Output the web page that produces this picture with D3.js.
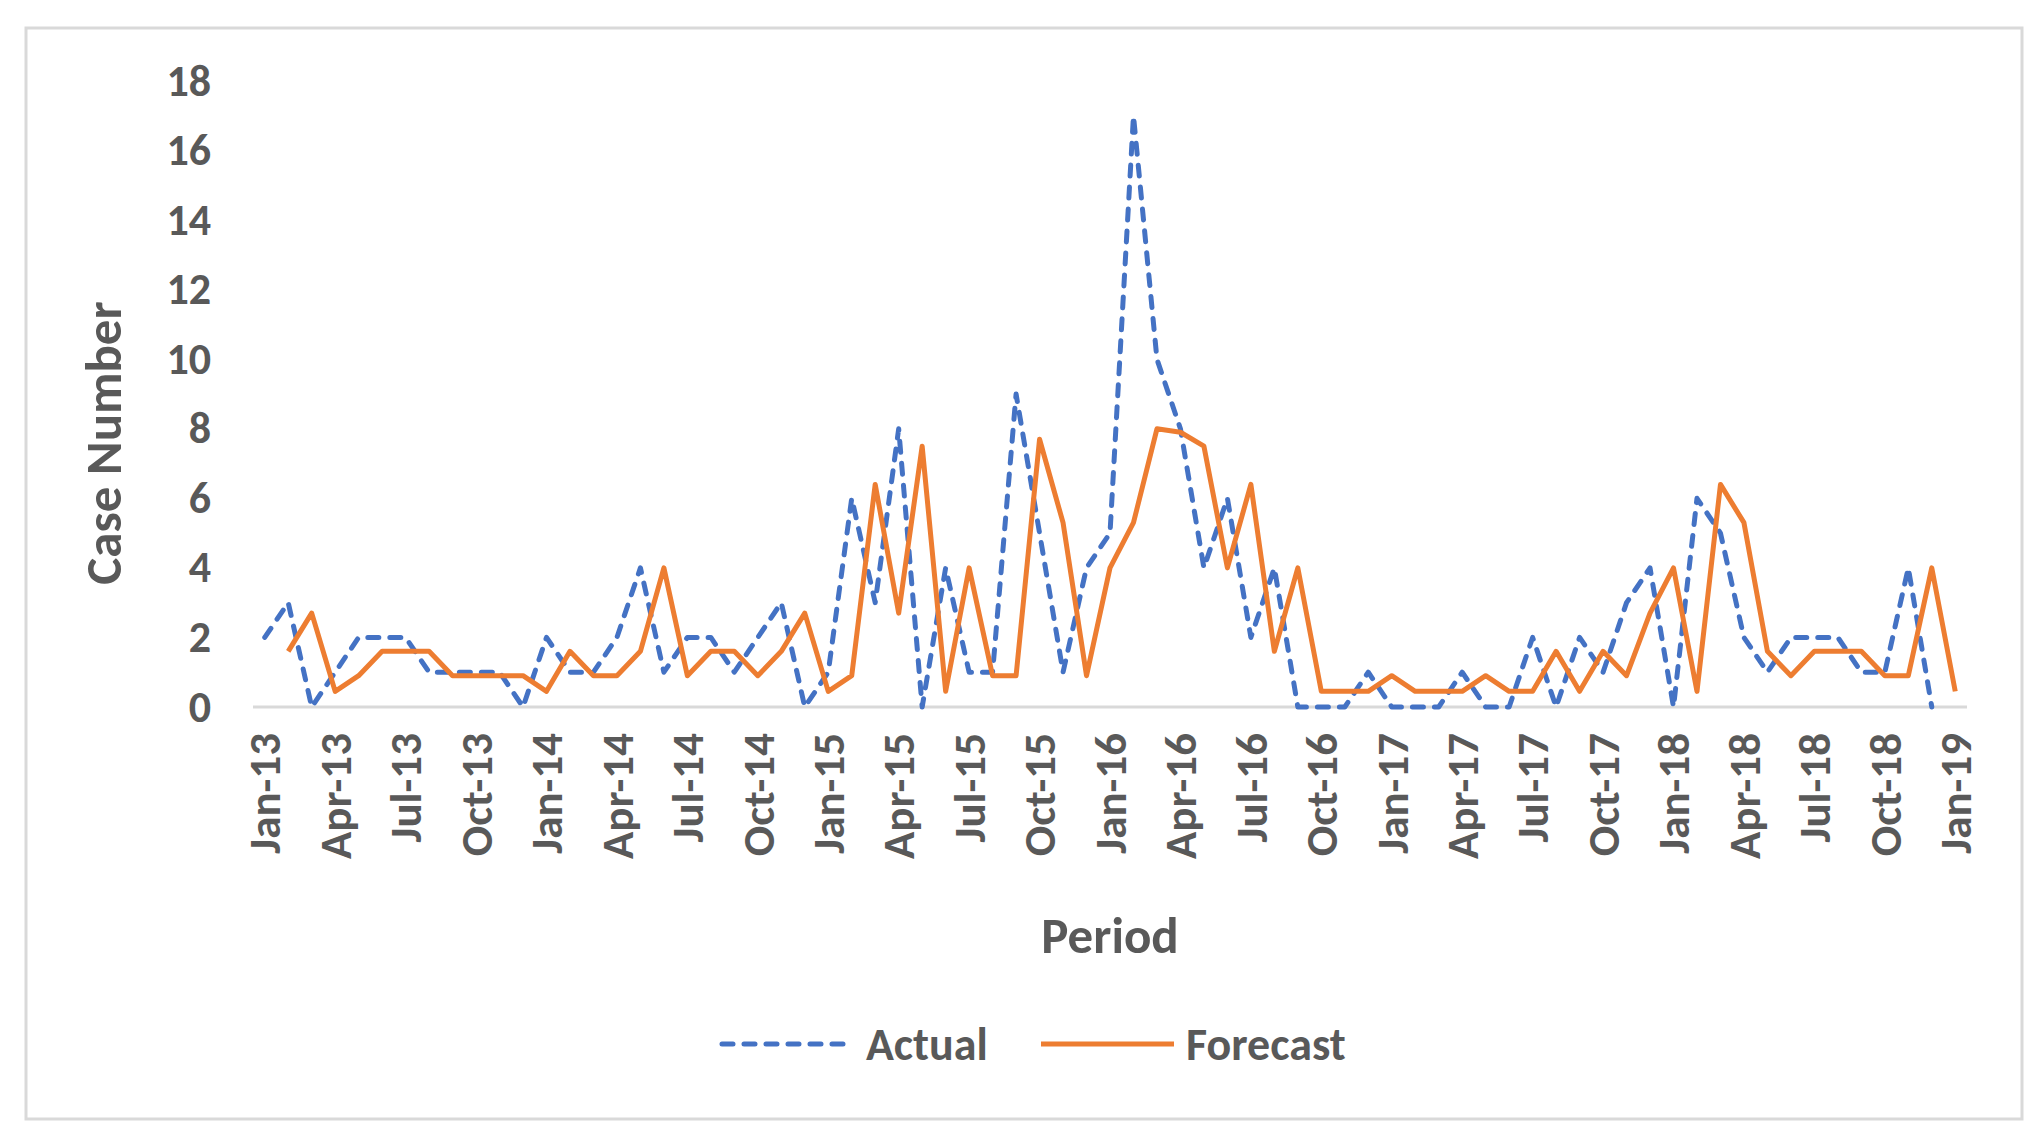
<!DOCTYPE html>
<html>
<head>
<meta charset="utf-8">
<script src="https://cdn.jsdelivr.net/npm/d3@7"></script>
<style>
	body { margin: 0; background: #fff; }
	text { font-family: Calibri, Carlito, Lato, sans-serif; font-weight: bold; fill: #595959; }
</style>
</head>
<body>
<svg id="chart" width="2042" height="1148"></svg>
<script>
// Months Jan-13 .. Jan-19
var monthNames = ["Jan","Feb","Mar","Apr","May","Jun","Jul","Aug","Sep","Oct","Nov","Dec"];
var years = ["13","14","15","16","17","18","19"];
var categories = [];
years.forEach(function(y) {
	monthNames.forEach(function(m) {
		if (categories.length < 73) categories.push(m + "-" + y);
	});
});

var xTickLabels = ["Jan-13","Apr-13","Jul-13","Oct-13","Jan-14","Apr-14","Jul-14","Oct-14",
	"Jan-15","Apr-15","Jul-15","Oct-15","Jan-16","Apr-16","Jul-16","Oct-16",
	"Jan-17","Apr-17","Jul-17","Oct-17","Jan-18","Apr-18","Jul-18","Oct-18","Jan-19"];
var yTicks = [0, 2, 4, 6, 8, 10, 12, 14, 16, 18];

// Jan-13 .. Dec-18 (no value for Jan-19)
var actual = [
	2, 3, 0, 1, 2, 2, 2, 1, 1, 1, 1, 0,
	2, 1, 1, 2, 4, 1, 2, 2, 1, 2, 3, 0,
	1, 6, 3, 8, 0, 4, 1, 1, 9, 5, 1, 4,
	5, 17, 10, 8, 4, 6, 2, 4, 0, 0, 0, 1,
	0, 0, 0, 1, 0, 0, 2, 0, 2, 1, 3, 4,
	0, 6, 5, 2, 1, 2, 2, 2, 1, 1, 4, 0,
	null
];
// Jan-13 has no forecast, Feb-13 .. Jan-19
var forecast = [
	null, 1.6, 2.7, 0.45, 0.9, 1.6, 1.6, 1.6, 0.9, 0.9, 0.9, 0.9,
	0.45, 1.6, 0.9, 0.9, 1.6, 4, 0.9, 1.6, 1.6, 0.9, 1.6, 2.7,
	0.45, 0.9, 6.4, 2.7, 7.5, 0.45, 4, 0.9, 0.9, 7.7, 5.3, 0.9,
	4, 5.3, 8, 7.9, 7.5, 4, 6.4, 1.6, 4, 0.45, 0.45, 0.45,
	0.9, 0.45, 0.45, 0.45, 0.9, 0.45, 0.45, 1.6, 0.45, 1.6, 0.9, 2.7,
	4, 0.45, 6.4, 5.3, 1.6, 0.9, 1.6, 1.6, 1.6, 0.9, 0.9, 4,
	0.45
];

var svg = d3.select("#chart");

// outer frame
svg.append("rect")
	.attr("x", 26).attr("y", 28)
	.attr("width", 1996).attr("height", 1091)
	.attr("fill", "#fff")
	.attr("stroke", "#d9d9d9")
	.attr("stroke-width", 3);

var xScale = d3.scaleLinear()
	.domain([-0.5, categories.length - 0.5])
	.range([253, 1967]);

var yScale = d3.scaleLinear()
	.domain([0, 18])
	.range([707, 81]);

// y axis labels (no axis line)
var yAxis = svg.append("g")
	.attr("class", "axis yAxis")
	.attr("transform", "translate(211,0)")
	.call(d3.axisLeft(yScale).tickValues(yTicks).tickSize(0).tickPadding(0));
yAxis.select(".domain").remove();
yAxis.selectAll("text")
	.attr("font-size", 44)
	.attr("font-family", null)
	.attr("fill", "#595959");

// baseline
svg.append("line")
	.attr("x1", xScale.range()[0]).attr("x2", xScale.range()[1])
	.attr("y1", yScale(0)).attr("y2", yScale(0))
	.attr("stroke", "#d9d9d9")
	.attr("stroke-width", 3);

// x tick labels, rotated
svg.append("g")
	.attr("class", "xLabels")
	.selectAll("text")
	.data(xTickLabels)
	.enter().append("text")
	.attr("transform", function(d) {
		var x = xScale(categories.indexOf(d));
		return "translate(" + x + ",733) rotate(-90)";
	})
	.attr("text-anchor", "end")
	.attr("dy", "0.35em")
	.attr("font-size", 45)
	.text(function(d) { return d; });

// axis titles
svg.append("text")
	.attr("x", 1110).attr("y", 935)
	.attr("text-anchor", "middle")
	.attr("dy", "0.35em")
	.attr("font-size", 51)
	.text("Period");

svg.append("text")
	.attr("transform", "translate(103,443) rotate(-90)")
	.attr("text-anchor", "middle")
	.attr("dy", "0.35em")
	.attr("font-size", 51)
	.text("Case Number");

var line = d3.line()
	.defined(function(d) { return d !== null; })
	.x(function(d, i) { return xScale(i); })
	.y(function(d) { return yScale(d); });

svg.append("path")
	.datum(actual)
	.attr("class", "actualLine")
	.attr("fill", "none")
	.attr("stroke", "#4472c4")
	.attr("stroke-width", 5)
	.attr("stroke-linecap", "round")
	.attr("stroke-linejoin", "round")
	.attr("stroke-dasharray", "11,11")
	.attr("d", line);

svg.append("path")
	.datum(forecast)
	.attr("class", "forecastLine")
	.attr("fill", "none")
	.attr("stroke", "#ed7d31")
	.attr("stroke-width", 5)
	.attr("stroke-linejoin", "round")
	.attr("d", line);

// legend
var legend = svg.append("g").attr("class", "legend");
legend.append("line")
	.attr("x1", 722).attr("x2", 854).attr("y1", 1044).attr("y2", 1044)
	.attr("stroke", "#4472c4").attr("stroke-width", 5)
	.attr("stroke-linecap", "round")
	.attr("stroke-dasharray", "11,11");
legend.append("text")
	.attr("x", 866).attr("y", 1044).attr("dy", "0.35em")
	.attr("font-size", 46)
	.text("Actual");
legend.append("line")
	.attr("x1", 1041).attr("x2", 1174).attr("y1", 1044).attr("y2", 1044)
	.attr("stroke", "#ed7d31").attr("stroke-width", 5);
legend.append("text")
	.attr("x", 1186).attr("y", 1044).attr("dy", "0.35em")
	.attr("font-size", 46)
	.text("Forecast");
</script>
</body>
</html>
